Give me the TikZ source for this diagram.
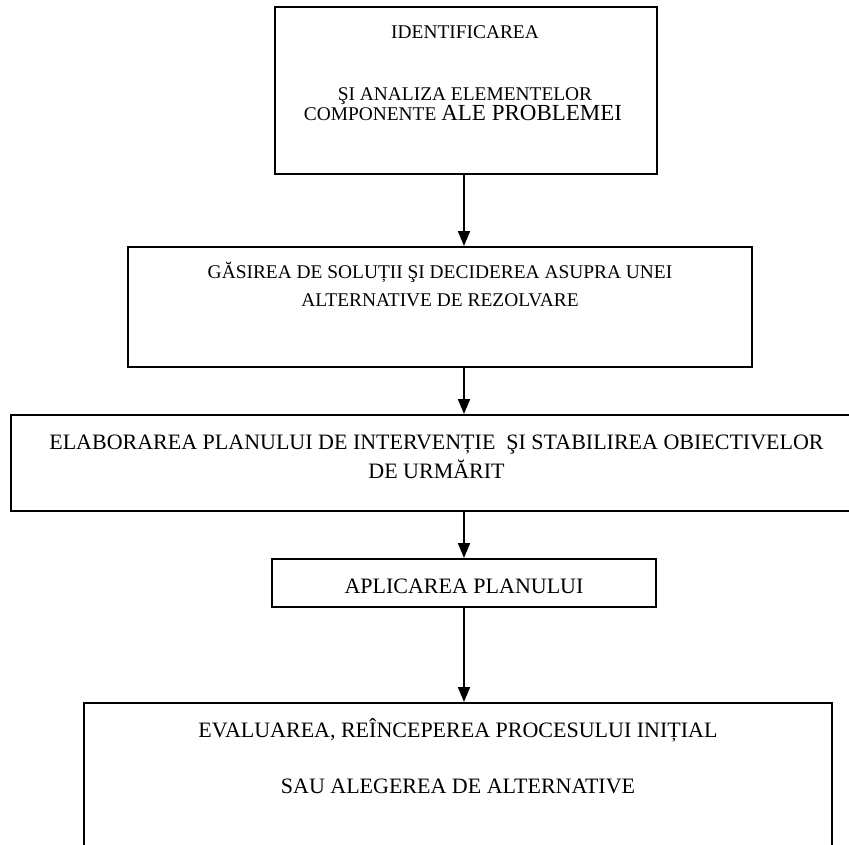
\documentclass[tikz,border=0pt]{standalone}
\usepackage{fontspec}
\setmainfont{Liberation Serif}
\usetikzlibrary{arrows.meta}
\tikzstyle{etapa} = [rectangle, draw=black, line width=2pt, inner sep=0pt]
\tikzstyle{txt} = [anchor=base, inner sep=0pt, font=\fontsize{19.4}{23}\selectfont]
\tikzstyle{txtmare} = [txt, font=\fontsize{22}{26}\selectfont]
\tikzstyle{sageata} = [line width=2pt, -{Triangle[length=15pt,width=12pt]}]

\begin{document}
\begin{tikzpicture}[x=1pt,y=-1pt]
		\useasboundingbox (0,0) rectangle (849,844);
		\clip (0,0) rectangle (849,844);
		\node[etapa, minimum width=382pt, minimum height=167pt](1) at (466,90.5){};
		\node[etapa, minimum width=624pt, minimum height=120pt](2) at (440,307){};
		\node[etapa, minimum width=851pt, minimum height=96pt](3) at (436.5,463){};
		\node[etapa, minimum width=384pt, minimum height=48pt](4) at (464,583){};
		\node[etapa, minimum width=748pt, minimum height=167pt](5) at (458,786.5){};
		% texte
		\node[txt](1a) at (465,38){IDENTIFICAREA};
		\node[txt](1b) at (465,100){ŞI ANALIZA ELEMENTELOR};
		\node[txt](1c) at (463,120){COMPONENTE {\fontsize{23}{27}\selectfont ALE PROBLEMEI}};
		\node[txt](2a) at (440,278){GĂSIREA DE SOLUȚII ŞI DECIDEREA ASUPRA UNEI};
		\node[txt](2b) at (440,306){ALTERNATIVE DE REZOLVARE};
		\node[txtmare](3a) at (436.5,449){ELABORAREA PLANULUI DE INTERVENȚIE\ \ ŞI STABILIREA OBIECTIVELOR};
		\node[txtmare](3b) at (436.5,478){DE URMĂRIT};
		\node[txtmare](4a) at (464,593){APLICAREA PLANULUI};
		\node[txtmare](5a) at (458,737){EVALUAREA, REÎNCEPEREA PROCESULUI INIȚIAL};
		\node[txtmare](5b) at (458,793){SAU ALEGEREA DE ALTERNATIVE};
		% sageti
		\draw[sageata] (1.south -| 4.north)--(2.north -| 4.north);
		\draw[sageata] (2.south -| 4.north)--(3.north -| 4.north);
		\draw[sageata] (3.south -| 4.north)--(4.north);
		\draw[sageata] (4.south)--(5.north -| 4.south);
\end{tikzpicture}
\end{document}
